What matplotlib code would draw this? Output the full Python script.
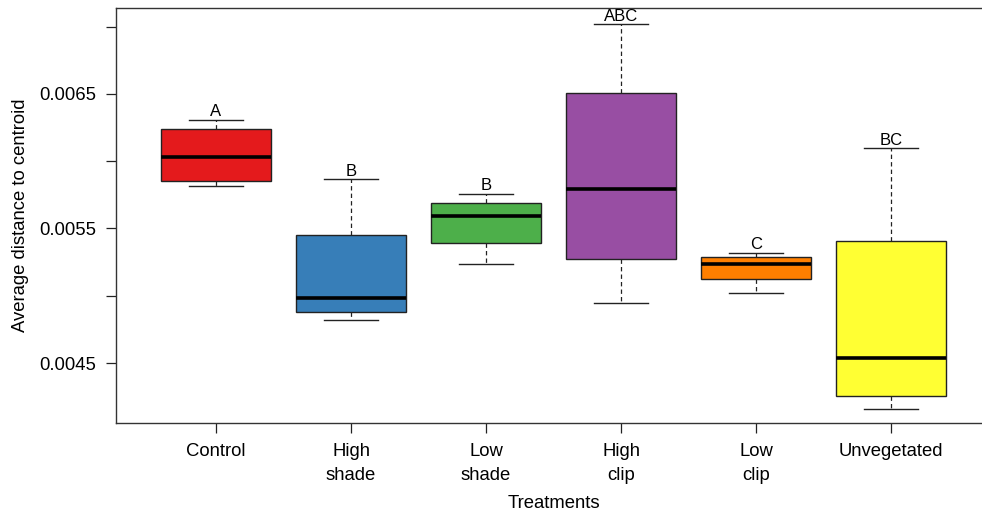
import matplotlib
matplotlib.use("Agg")
import matplotlib.pyplot as plt

plt.rcParams['font.family'] = ['Liberation Sans', 'DejaVu Sans']

# treatments and box statistics
treatments = ['Control', 'High\nshade', 'Low\nshade', 'High\nclip', 'Low\nclip', 'Unvegetated']
whisker_low = [0.005818, 0.004822, 0.005236, 0.004948, 0.005020, 0.004160]
box_low = [0.005855, 0.004877, 0.005394, 0.005271, 0.005122, 0.004252]
medians = [0.006032, 0.004983, 0.005591, 0.005796, 0.005236, 0.004535]
box_high = [0.006240, 0.005449, 0.005692, 0.006507, 0.005286, 0.005409]
whisker_high = [0.006307, 0.005866, 0.005757, 0.007018, 0.005318, 0.006096]
letters = ['A', 'B', 'B', 'ABC', 'C', 'BC']
colors = ['#E41A1C', '#377EB8', '#4DAF4A', '#984EA3', '#FF7F00', '#FFFF33']

y_ticks = [0.0045, 0.0050, 0.0055, 0.0060, 0.0065, 0.0070]
y_labels = ['0.0045', '', '0.0055', '', '0.0065', '']

stats = []
for i in range(len(treatments)):
    stats.append({'whislo': whisker_low[i], 'q1': box_low[i], 'med': medians[i],
                  'q3': box_high[i], 'whishi': whisker_high[i], 'fliers': []})

fig = plt.figure(figsize=(9.82, 5.14), dpi=100)
ax = fig.add_axes([116 / 982, 1 - 423 / 514, (991 - 116) / 982, (423 - 8) / 514])

positions = list(range(1, len(treatments) + 1))
bp = ax.bxp(stats, positions=positions, widths=0.815, capwidths=0.4,
            patch_artist=True, showfliers=False,
            boxprops=dict(edgecolor='#222222', linewidth=1.0),
            medianprops=dict(color='black', linewidth=2.6, solid_capstyle='butt'),
            whiskerprops=dict(color='#222222', linewidth=0.9, linestyle=(0, (3.5, 2.5))),
            capprops=dict(color='#222222', linewidth=1.0))
for patch, c in zip(bp['boxes'], colors):
    patch.set_facecolor(c)

for x, top, lab in zip(positions, whisker_high, letters):
    ax.annotate(lab, (x, top), xytext=(0, 0.5), textcoords='offset points',
                ha='center', va='bottom', fontsize=12)

ax.set_xlim(1 - 100 / 135, len(treatments) + 100 / 135)
ax.set_ylim(0.004054, 0.007139)
ax.set_yticks(y_ticks)
ax.set_yticklabels(y_labels)
ax.set_xticks(positions)
ax.set_xticklabels(treatments, linespacing=1.55)

ax.tick_params(axis='both', direction='out', length=7.5, width=0.9, color='#222222',
               labelsize=13.3, pad=7)
ax.spines['right'].set_visible(False)
for s in ['left', 'bottom', 'top']:
    ax.spines[s].set_linewidth(1.0)
    ax.spines[s].set_color('#333333')

ax.set_xlabel('Treatments', fontsize=13.3, labelpad=8)
ax.set_ylabel('Average distance to centroid', fontsize=13.3, labelpad=7)

fig.savefig('out.png', dpi=100)
